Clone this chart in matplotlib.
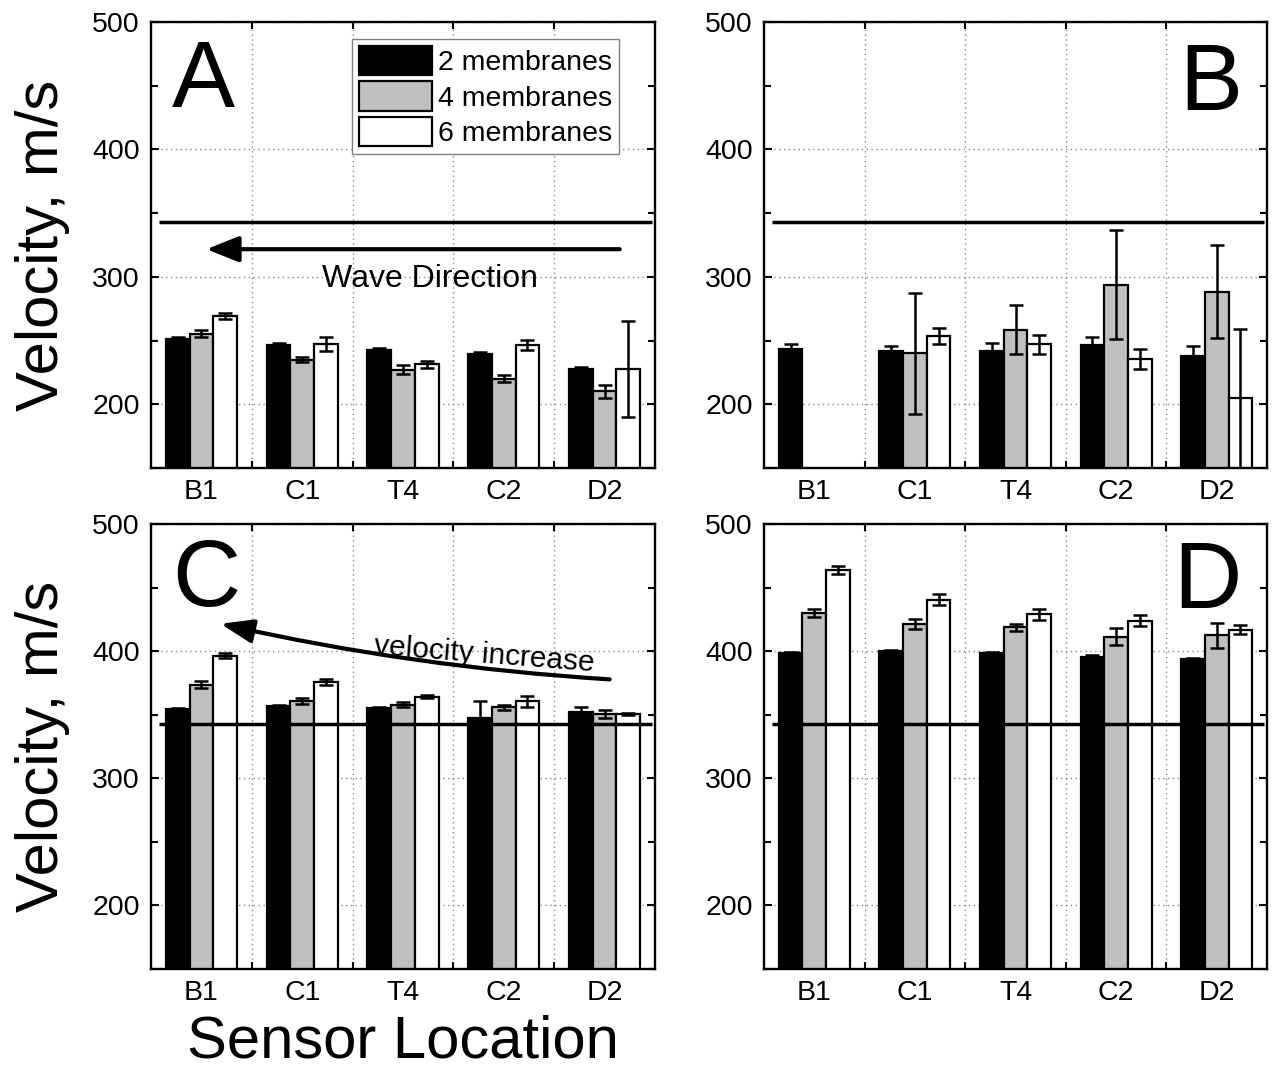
import numpy as np
import matplotlib
matplotlib.use("Agg")
import matplotlib.pyplot as plt
from matplotlib.ticker import MultipleLocator, FixedLocator

plt.rcParams['font.family'] = ['Liberation Sans', 'DejaVu Sans']

locations = ['B1', 'C1', 'T4', 'C2', 'D2']
series_labels = ['2 membranes', '4 membranes', '6 membranes']
series_colors = ['black', '#c0c0c0', 'white']
sound_speed = 343
nan = np.nan

# Panel A
a_two = [251.5, 246.8, 242.9, 239.7, 227.7]
a_two_err = [1.0, 1.0, 1.0, 1.0, 1.5]
a_four = [255.4, 235.0, 227.2, 220.1, 210.1]
a_four_err = [2.9, 2.2, 3.5, 2.9, 5.1]
a_six = [269.3, 247.6, 231.3, 246.8, 227.4]
a_six_err = [2.5, 5.5, 3.0, 3.9, 37.6]

# Panel B
b_two = [243.1, 241.6, 241.6, 246.3, 237.9]
b_two_err = [4.0, 4.2, 6.8, 6.5, 7.6]
b_four = [nan, 240.2, 258.6, 293.7, 288.4]
b_four_err = [nan, 47.5, 19.2, 42.7, 36.7]
b_six = [nan, 253.6, 247.1, 235.3, 204.6]
b_six_err = [nan, 6.0, 7.5, 8.0, 54.3]

# Panel C
c_two = [354.6, 356.7, 355.4, 347.1, 352.2]
c_two_err = [1.0, 1.0, 1.0, 13.6, 4.2]
c_four = [373.7, 360.9, 358.0, 355.7, 350.6]
c_four_err = [2.9, 2.2, 2.3, 2.0, 3.0]
c_six = [396.4, 375.7, 364.3, 360.6, 350.4]
c_six_err = [2.0, 2.2, 1.0, 4.4, 1.0]

# Panel D
d_two = [398.2, 399.8, 398.2, 395.6, 393.5]
d_two_err = [1.0, 1.0, 1.0, 1.0, 1.5]
d_four = [430.1, 421.4, 418.6, 411.5, 412.5]
d_four_err = [3.3, 4.0, 2.9, 6.5, 9.7]
d_six = [463.5, 440.5, 429.0, 424.0, 417.0]
d_six_err = [3.1, 4.4, 4.2, 4.2, 3.7]

panels = {
    'A': ([a_two, a_four, a_six], [a_two_err, a_four_err, a_six_err]),
    'B': ([b_two, b_four, b_six], [b_two_err, b_four_err, b_six_err]),
    'C': ([c_two, c_four, c_six], [c_two_err, c_four_err, c_six_err]),
    'D': ([d_two, d_four, d_six], [d_two_err, d_four_err, d_six_err]),
}

W, H = 1274, 1074
fig = plt.figure(figsize=(W / 100, H / 100), dpi=100)


def px_axes(x0, y0, x1, y1):
    return fig.add_axes([x0 / W, 1 - y1 / H, (x1 - x0) / W, (y1 - y0) / H])


axes = {
    'A': px_axes(151, 22, 655, 468),
    'B': px_axes(764, 22, 1267, 468),
    'C': px_axes(151, 524, 655, 969),
    'D': px_axes(764, 524, 1267, 969),
}

x = np.arange(1, len(locations) + 1)
bar_w = 0.235
offsets = [-0.235, 0.0, 0.235]

for name, ax in axes.items():
    vals, errs = panels[name]
    for i in range(3):
        xi = x + offsets[i]
        ax.bar(xi, vals[i], width=bar_w, color=series_colors[i],
               edgecolor='black', linewidth=1.6, label=series_labels[i],
               zorder=2)
        ax.errorbar(xi, vals[i], yerr=errs[i], fmt='none', ecolor='black',
                    elinewidth=1.8, capsize=4.8, capthick=1.8, zorder=3)
    ax.hlines(sound_speed, 0.58, 5.47, color='black', linewidth=2.5, zorder=4)

    ax.set_xlim(0.5, 5.5)
    ax.set_ylim(150, 500)
    ax.set_xticks(x)
    ax.set_xticklabels(locations)
    ax.xaxis.set_minor_locator(FixedLocator([1.5, 2.5, 3.5, 4.5]))
    ax.yaxis.set_major_locator(MultipleLocator(100))
    ax.yaxis.set_minor_locator(MultipleLocator(50))
    ax.set_yticks([200, 300, 400, 500])
    ax.tick_params(axis='x', which='major', length=0, pad=8, labelsize=20.5)
    ax.tick_params(axis='y', which='major', direction='in', length=6,
                   width=1.5, left=True, right=True, pad=8, labelsize=20.5)
    ax.tick_params(axis='y', which='minor', direction='in', length=5,
                   width=1.5, left=True, right=True)
    ax.tick_params(axis='x', which='minor', direction='in', length=5,
                   width=1.5, bottom=True, top=True)
    ax.grid(True, axis='y', which='major', linestyle=(0, (1, 2.5)),
            color='#888888', linewidth=1.0)
    ax.grid(True, axis='x', which='minor', linestyle=(0, (1, 2.5)),
            color='#888888', linewidth=1.0)
    ax.set_axisbelow(True)
    for sp in ax.spines.values():
        sp.set_linewidth(1.7)
        sp.set_zorder(5)

# Panel letters
axes['A'].text(0.042, 0.809, 'A', transform=axes['A'].transAxes,
               fontsize=68, ha='left', va='baseline')
axes['B'].text(0.95, 0.803, 'B', transform=axes['B'].transAxes,
               fontsize=68, ha='right', va='baseline')
axes['C'].text(0.042, 0.815, 'C', transform=axes['C'].transAxes,
               fontsize=68, ha='left', va='baseline')
axes['D'].text(0.95, 0.811, 'D', transform=axes['D'].transAxes,
               fontsize=68, ha='right', va='baseline')

# Legend
leg = axes['A'].legend(loc='upper left', bbox_to_anchor=(0.399, 0.962),
                       fontsize=20.5, handlelength=2.56, handleheight=1.2,
                       labelspacing=0.18, borderpad=0.25, handletextpad=0.2,
                       borderaxespad=0, fancybox=False, framealpha=1,
                       edgecolor='#808080')
leg.get_frame().set_linewidth(1.0)
leg.set_zorder(6)

# Wave direction arrow
axA = axes['A']
axA.annotate('', xy=(1.05, 321.7), xytext=(5.15, 321.7),
             arrowprops=dict(arrowstyle='-|>,head_length=0.55,head_width=0.22',
                             mutation_scale=36, lw=3, color='black',
                             shrinkA=0, shrinkB=0), zorder=4)
axA.text(3.27, 292, 'Wave Direction', fontsize=23, ha='center', va='baseline')

# Velocity increase arrow
axC = axes['C']
axC.annotate('', xy=(1.19, 421.5), xytext=(5.05, 377.8),
             arrowprops=dict(arrowstyle='-|>,head_length=0.55,head_width=0.2',
                             mutation_scale=36, lw=3, color='black',
                             shrinkA=0, shrinkB=0,
                             connectionstyle='arc3,rad=-0.04'), zorder=4)
axC.text(3.81, 397.4, 'velocity increase', fontsize=21.5, ha='center',
         va='center', rotation=-4.5, rotation_mode='anchor')

# Axis labels
for name in ('A', 'C'):
    axes[name].set_ylabel('Velocity, m/s', fontsize=43, labelpad=16)
axes['C'].set_xlabel('Sensor Location', fontsize=43, labelpad=6)

fig.savefig('out.png', dpi=100)
